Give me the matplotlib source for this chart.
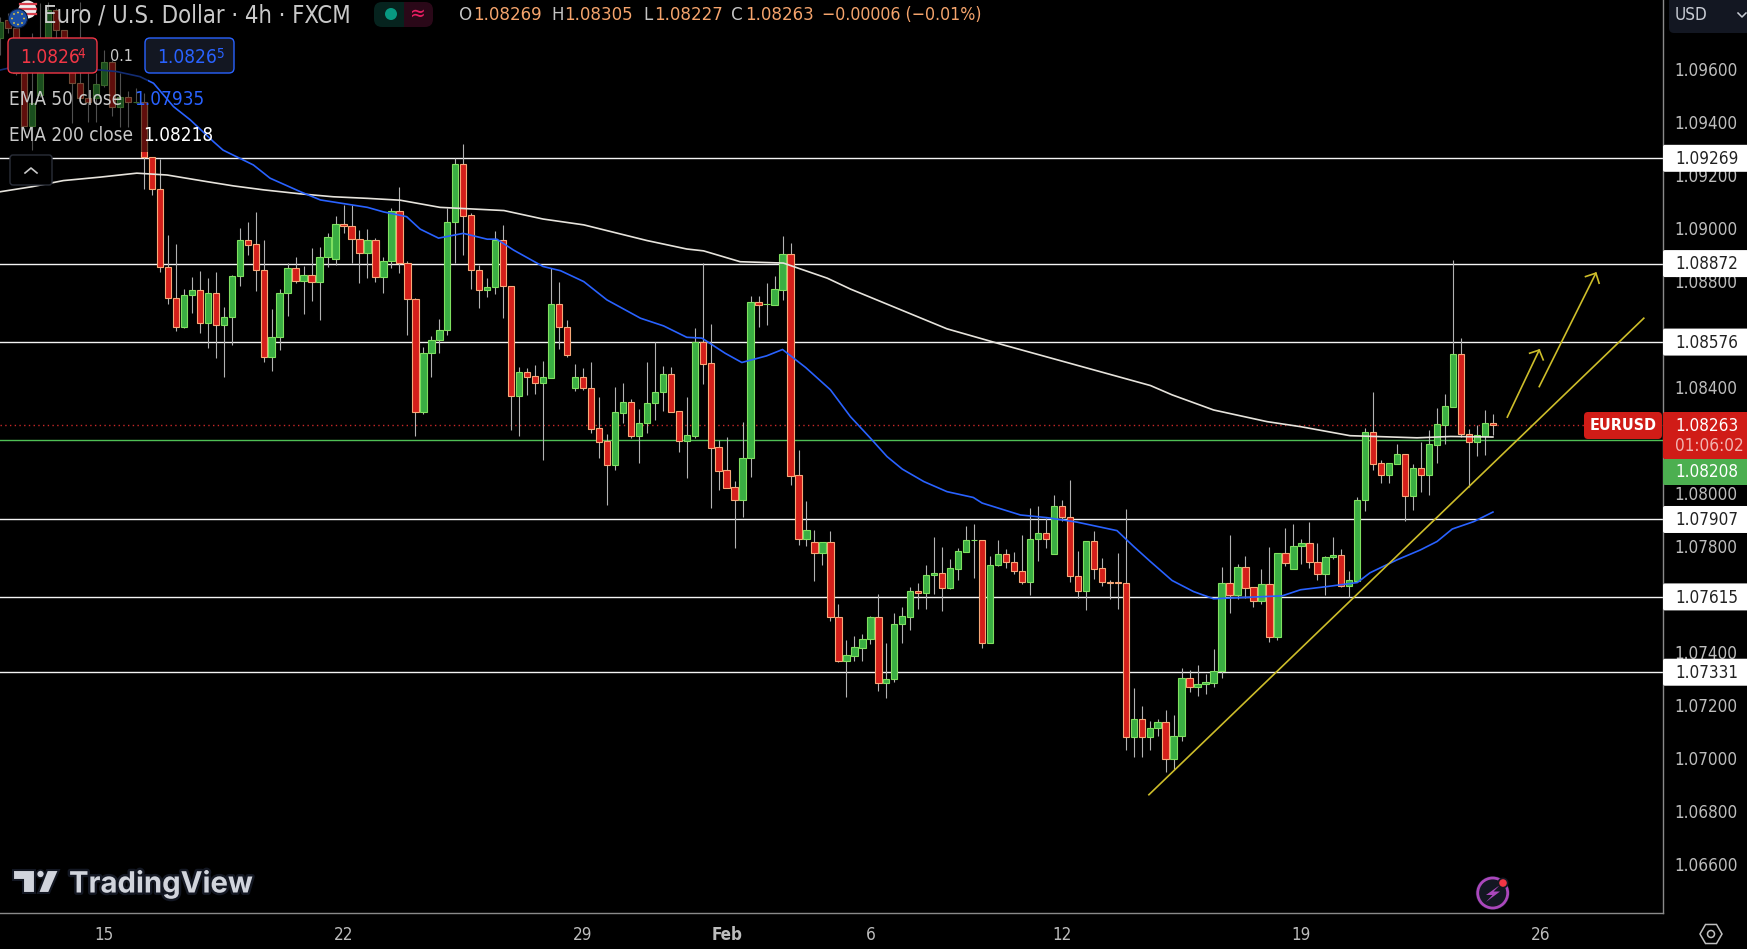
import matplotlib
matplotlib.use("Agg")
import matplotlib.pyplot as plt
import matplotlib.patheffects as pe
from matplotlib.patches import Rectangle, FancyBboxPatch, Circle, Polygon, RegularPolygon
from matplotlib.transforms import ScaledTranslation

W, H = 1747, 949
AXIS_X, AXIS_Y = 1663, 913
BAR_PX = 7.982

opens = [
    1.09721, 1.09791, 1.09759, 1.09589, 1.09391, 1.09508, 1.09721, 1.09828, 1.09753, 1.09677,
    1.09552, 1.09495, 1.09495, 1.09545, 1.09633, 1.09464, 1.09501, 1.09481, 1.09481, 1.09275,
    1.09152, 1.08860, 1.08741, 1.08632, 1.08752, 1.08771, 1.08647, 1.08760, 1.08639, 1.08669,
    1.08824, 1.08960, 1.08945, 1.08847, 1.08521, 1.08596, 1.08760, 1.08854, 1.08808, 1.08828,
    1.08804, 1.08896, 1.08891, 1.09020, 1.09015, 1.08966, 1.08913, 1.08960, 1.08823, 1.08883,
    1.09069, 1.08873, 1.08737, 1.08314, 1.08534, 1.08582, 1.08621, 1.09028, 1.09247, 1.09054,
    1.08846, 1.08774, 1.08783, 1.08960, 1.08789, 1.08374, 1.08462, 1.08447, 1.08423, 1.08442,
    1.08719, 1.08634, 1.08404, 1.08443, 1.08402, 1.08251, 1.08202, 1.08114, 1.08310, 1.08349,
    1.08223, 1.08270, 1.08345, 1.08386, 1.08455, 1.08315, 1.08204, 1.08223, 1.08575, 1.08496,
    1.08179, 1.08093, 1.08028, 1.07982, 1.08138, 1.08726, 1.08718, 1.08716, 1.08774, 1.08907,
    1.08074, 1.07835, 1.07821, 1.07782, 1.07822, 1.07539, 1.07375, 1.07394, 1.07424, 1.07455,
    1.07539, 1.07292, 1.07304, 1.07511, 1.07541, 1.07637, 1.07628, 1.07697, 1.07705, 1.07647,
    1.07722, 1.07786, 1.07829, 1.07829, 1.07440, 1.07734, 1.07776, 1.07746, 1.07712, 1.07670,
    1.07832, 1.07856, 1.07775, 1.07957, 1.07916, 1.07693, 1.07639, 1.07825, 1.07724, 1.07670,
    1.07670, 1.07667, 1.07085, 1.07154, 1.07085, 1.07119, 1.07143, 1.07002, 1.07089, 1.07309,
    1.07274, 1.07285, 1.07292, 1.07334, 1.07666, 1.07623, 1.07727, 1.07651, 1.07601, 1.07663,
    1.07465, 1.07779, 1.07722, 1.07806, 1.07817, 1.07748, 1.07703, 1.07764, 1.07772, 1.07657,
    1.07676, 1.07979, 1.08236, 1.08119, 1.08076, 1.08118, 1.08153, 1.07997, 1.08100, 1.08076,
    1.08189, 1.08263, 1.08333, 1.08530, 1.08231, 1.08201, 1.08223, 1.08269,
]
highs = [
    1.09803, 1.09816, 1.09770, 1.09600, 1.09740, 1.09853, 1.09860, 1.09835, 1.09753, 1.09715,
    1.09860, 1.09589, 1.09589, 1.09677, 1.09640, 1.09589, 1.09524, 1.09533, 1.09514, 1.09275,
    1.09266, 1.08980, 1.08946, 1.08775, 1.08820, 1.08844, 1.08816, 1.08840, 1.08707, 1.08829,
    1.09005, 1.09030, 1.09067, 1.08961, 1.08700, 1.08775, 1.08873, 1.08896, 1.08863, 1.08931,
    1.08933, 1.08986, 1.09051, 1.09093, 1.09093, 1.08999, 1.09001, 1.08967, 1.08898, 1.09080,
    1.09160, 1.08883, 1.08741, 1.08558, 1.08599, 1.08662, 1.09081, 1.09269, 1.09323, 1.09062,
    1.08867, 1.08817, 1.08995, 1.09018, 1.08789, 1.08481, 1.08477, 1.08490, 1.08504, 1.08857,
    1.08803, 1.08659, 1.08494, 1.08478, 1.08500, 1.08369, 1.08230, 1.08406, 1.08422, 1.08360,
    1.08324, 1.08500, 1.08575, 1.08486, 1.08482, 1.08315, 1.08368, 1.08629, 1.08873, 1.08644,
    1.08207, 1.08217, 1.08052, 1.08274, 1.08750, 1.08750, 1.08798, 1.08825, 1.08976, 1.08950,
    1.08169, 1.07977, 1.07866, 1.07821, 1.07864, 1.07589, 1.07453, 1.07468, 1.07476, 1.07544,
    1.07627, 1.07443, 1.07555, 1.07578, 1.07652, 1.07668, 1.07736, 1.07842, 1.07804, 1.07758,
    1.07800, 1.07882, 1.07891, 1.07829, 1.07770, 1.07830, 1.07797, 1.07785, 1.07848, 1.07950,
    1.07959, 1.07912, 1.07999, 1.07981, 1.08057, 1.07789, 1.07825, 1.07864, 1.07763, 1.07680,
    1.07781, 1.07947, 1.07272, 1.07205, 1.07148, 1.07155, 1.07189, 1.07171, 1.07348, 1.07340,
    1.07359, 1.07325, 1.07419, 1.07729, 1.07849, 1.07739, 1.07769, 1.07651, 1.07720, 1.07803,
    1.07779, 1.07875, 1.07890, 1.07833, 1.07898, 1.07818, 1.07769, 1.07841, 1.07796, 1.07713,
    1.07992, 1.08252, 1.08388, 1.08131, 1.08119, 1.08192, 1.08153, 1.08116, 1.08199, 1.08243,
    1.08327, 1.08380, 1.08886, 1.08591, 1.08248, 1.08262, 1.08319, 1.08305,
]
lows = [
    1.09659, 1.09740, 1.09583, 1.09391, 1.09300, 1.09500, 1.09703, 1.09715, 1.09665, 1.09401,
    1.09483, 1.09407, 1.09407, 1.09539, 1.09429, 1.09388, 1.09388, 1.09476, 1.09155, 1.09129,
    1.08841, 1.08718, 1.08619, 1.08628, 1.08684, 1.08609, 1.08555, 1.08515, 1.08446, 1.08565,
    1.08789, 1.08904, 1.08770, 1.08502, 1.08468, 1.08546, 1.08674, 1.08798, 1.08682, 1.08732,
    1.08659, 1.08860, 1.08867, 1.08989, 1.08873, 1.08800, 1.08819, 1.08804, 1.08760, 1.08854,
    1.08838, 1.08603, 1.08220, 1.08305, 1.08446, 1.08536, 1.08604, 1.08875, 1.08905, 1.08776,
    1.08706, 1.08746, 1.08758, 1.08667, 1.08245, 1.08220, 1.08377, 1.08380, 1.08132, 1.08442,
    1.08550, 1.08521, 1.08393, 1.08396, 1.08235, 1.08139, 1.07962, 1.08094, 1.08270, 1.08216,
    1.08120, 1.08235, 1.08282, 1.08316, 1.08313, 1.08163, 1.08065, 1.08216, 1.08418, 1.07952,
    1.08018, 1.08025, 1.07801, 1.07918, 1.08069, 1.08631, 1.08641, 1.08714, 1.08735, 1.08037,
    1.07811, 1.07807, 1.07676, 1.07736, 1.07523, 1.07368, 1.07236, 1.07372, 1.07375, 1.07438,
    1.07259, 1.07232, 1.07296, 1.07440, 1.07491, 1.07570, 1.07570, 1.07627, 1.07560, 1.07646,
    1.07680, 1.07786, 1.07688, 1.07421, 1.07440, 1.07730, 1.07725, 1.07700, 1.07665, 1.07623,
    1.07751, 1.07800, 1.07775, 1.07900, 1.07672, 1.07612, 1.07564, 1.07683, 1.07657, 1.07608,
    1.07570, 1.07036, 1.07010, 1.07010, 1.07039, 1.07089, 1.06953, 1.06967, 1.07070, 1.07255,
    1.07240, 1.07250, 1.07274, 1.07311, 1.07556, 1.07608, 1.07612, 1.07578, 1.07588, 1.07446,
    1.07453, 1.07732, 1.07722, 1.07739, 1.07724, 1.07679, 1.07622, 1.07759, 1.07654, 1.07616,
    1.07676, 1.07939, 1.08094, 1.08045, 1.08045, 1.08118, 1.07903, 1.07943, 1.08012, 1.08000,
    1.08120, 1.08192, 1.08333, 1.08217, 1.08031, 1.08146, 1.08150, 1.08227,
]
closes = [
    1.09784, 1.09759, 1.09589, 1.09391, 1.09476, 1.09721, 1.09828, 1.09753, 1.09677, 1.09552,
    1.09495, 1.09483, 1.09549, 1.09633, 1.09464, 1.09501, 1.09481, 1.09481, 1.09275, 1.09152,
    1.08860, 1.08741, 1.08632, 1.08752, 1.08772, 1.08647, 1.08760, 1.08639, 1.08669, 1.08825,
    1.08960, 1.08943, 1.08847, 1.08521, 1.08596, 1.08760, 1.08854, 1.08808, 1.08828, 1.08804,
    1.08896, 1.08971, 1.09020, 1.09015, 1.08966, 1.08913, 1.08960, 1.08823, 1.08883, 1.09069,
    1.08873, 1.08737, 1.08314, 1.08534, 1.08583, 1.08621, 1.09028, 1.09247, 1.09053, 1.08846,
    1.08774, 1.08783, 1.08960, 1.08789, 1.08374, 1.08462, 1.08446, 1.08423, 1.08443, 1.08719,
    1.08634, 1.08529, 1.08443, 1.08401, 1.08250, 1.08201, 1.08114, 1.08311, 1.08349, 1.08223,
    1.08270, 1.08345, 1.08387, 1.08455, 1.08314, 1.08204, 1.08225, 1.08575, 1.08495, 1.08178,
    1.08091, 1.08027, 1.07982, 1.08138, 1.08726, 1.08714, 1.08719, 1.08775, 1.08907, 1.08072,
    1.07835, 1.07866, 1.07782, 1.07821, 1.07538, 1.07375, 1.07396, 1.07426, 1.07456, 1.07539,
    1.07292, 1.07305, 1.07512, 1.07543, 1.07637, 1.07628, 1.07697, 1.07705, 1.07647, 1.07724,
    1.07788, 1.07829, 1.07830, 1.07440, 1.07735, 1.07776, 1.07745, 1.07711, 1.07670, 1.07833,
    1.07856, 1.07832, 1.07957, 1.07915, 1.07692, 1.07639, 1.07825, 1.07722, 1.07670, 1.07669,
    1.07669, 1.07085, 1.07154, 1.07085, 1.07120, 1.07143, 1.07002, 1.07090, 1.07309, 1.07274,
    1.07286, 1.07294, 1.07335, 1.07667, 1.07622, 1.07727, 1.07650, 1.07601, 1.07663, 1.07465,
    1.07779, 1.07744, 1.07806, 1.07817, 1.07748, 1.07703, 1.07764, 1.07772, 1.07657, 1.07678,
    1.07979, 1.08236, 1.08118, 1.08076, 1.08119, 1.08153, 1.07997, 1.08100, 1.08076, 1.08190,
    1.08266, 1.08334, 1.08530, 1.08231, 1.08201, 1.08224, 1.08270, 1.08263,
]

ema50_bar = [
    0, 1, 12.5, 14.6, 17.5, 19.2, 21.7, 23.8, 26.7, 27.9, 31.7, 33.8, 37.6, 40.1, 46, 48, 50.9,
    52.6, 54.9, 58, 61, 62.2, 64.3, 68, 70.2, 73.1, 76, 80.2, 83.1, 86, 87.9, 90.8, 92.9, 96, 98,
    100.9, 104, 106.5, 109, 111.1, 113, 115.7, 118.6, 121.9, 123, 127.8, 131.1, 134.9, 139.9, 142,
    144.1, 146.8, 149.5, 152, 156.6, 160.6, 162.9, 166.2, 170, 171.6, 175, 177.9, 180, 181.9,
    184.6, 187,
]
ema50_val = [
    1.09602, 1.09609, 1.09602, 1.09596, 1.09577, 1.09552, 1.09464, 1.09414, 1.09332, 1.09300,
    1.09244, 1.09194, 1.09143, 1.09112, 1.09084, 1.09067, 1.09049, 1.09002, 1.08968, 1.08986,
    1.08964, 1.08964, 1.08923, 1.08861, 1.08845, 1.08804, 1.08735, 1.08666, 1.08637, 1.08594,
    1.08591, 1.08534, 1.08499, 1.08524, 1.08548, 1.08480, 1.08396, 1.08295, 1.08214, 1.08144,
    1.08097, 1.08050, 1.08012, 1.07990, 1.07969, 1.07924, 1.07914, 1.07897, 1.07865, 1.07805,
    1.07748, 1.07677, 1.07635, 1.07608, 1.07614, 1.07619, 1.07642, 1.07654, 1.07669, 1.07706,
    1.07755, 1.07792, 1.07824, 1.07871, 1.07899, 1.07935,
]
ema200_bar = [
    0, 4, 7.9, 12.5, 17.1, 20.9, 25.9, 29.2, 33, 37.6, 41.7, 46, 50.1, 55.1, 63.1, 68, 73.1, 81,
    86, 88.1, 92.7, 98.1, 103.6, 106.5, 118.6, 125.7, 144.1, 146.8, 152, 158.7, 162.9, 169.1,
    177.5, 181.7, 187,
]
ema200_val = [
    1.09143, 1.09162, 1.09185, 1.09198, 1.09213, 1.09206, 1.09181, 1.09165, 1.09150, 1.09135,
    1.09124, 1.09118, 1.09111, 1.09084, 1.09072, 1.09040, 1.09018, 1.08959, 1.08927, 1.08920,
    1.08879, 1.08874, 1.08817, 1.08776, 1.08626, 1.08565, 1.08412, 1.08377, 1.08320, 1.08276,
    1.08257, 1.08223, 1.08215, 1.08220, 1.08218,
]

levels = [1.09269, 1.08872, 1.08576, 1.07907, 1.07615, 1.07331]
level_labels = ["1.09269", "1.08872", "1.08576", "1.07907", "1.07615", "1.07331"]
last_price = 1.08263
ema_price = 1.08208

trend_bar = [143.9, 205.9]
trend_val = [1.06869, 1.08666]
arrow1_bar = [188.8, 192.8]
arrow1_val = [1.08293, 1.08546]
arrow1_head_bar = [191.6, 192.8, 193.3]
arrow1_head_val = [1.08534, 1.08546, 1.08509]
arrow2_bar = [192.8, 199.9]
arrow2_val = [1.08408, 1.08836]
arrow2_head_bar = [198.6, 199.9, 200.3]
arrow2_head_val = [1.08823, 1.08836, 1.08798]

date_ticks = [13, 43, 73, 91, 109, 133, 163, 193]
date_labels = ["15", "22", "29", "Feb", "6", "12", "19", "26"]
price_ticks = [1.066, 1.068, 1.070, 1.072, 1.074, 1.076, 1.078, 1.080,
               1.084, 1.088, 1.090, 1.092, 1.094, 1.096]
y_top = 1.09866
y_bottom = 1.06423

BG = "#000000"
UP_FILL, UP_EDGE = "#3aae43", "#7fe060"
DOWN_FILL, DOWN_EDGE = "#d41f1a", "#f8a878"
WICK = "#b2b2b2"
YELLOW = "#cdbd2a"
AXIS_GRAY = "#8a8a8a"
TICK_COLOR = "#bdbdbd"
FONT = dict(family="DejaVu Sans", stretch="condensed")
fs = lambda px: px * 0.72

fig = plt.figure(figsize=(W / 100, H / 100), dpi=100, facecolor=BG)
ax = fig.add_axes([0, 1 - AXIS_Y / H, AXIS_X / W, AXIS_Y / H], facecolor=BG)
ax.set_xlim(-0.3 / BAR_PX, (AXIS_X - 0.3) / BAR_PX)
ax.set_ylim(y_bottom, y_top)

bars = range(len(opens))
ax.vlines(bars, lows, highs, color=WICK, linewidth=0.8, zorder=3)
for i in bars:
    up = closes[i] >= opens[i]
    ax.bar(i, max(abs(closes[i] - opens[i]), 0.00002), bottom=min(opens[i], closes[i]), width=0.8,
           color=UP_FILL if up else DOWN_FILL, edgecolor=UP_EDGE if up else DOWN_EDGE,
           linewidth=0.8, zorder=4)

for lv in levels:
    ax.axhline(lv, color="#f4f4f4", linewidth=1.0, zorder=2)
ax.axhline(last_price, color="#c62828", linewidth=1.0, linestyle=(0, (1, 2.4)), zorder=2)
ax.axhline(ema_price, color="#4fbf55", linewidth=1.0, zorder=2)

ax.plot(ema200_bar, ema200_val, color="#e6e3dc", linewidth=1.2, zorder=5)
ax.plot(ema50_bar, ema50_val, color="#2962ff", linewidth=1.2, zorder=5)

for xs, ys in [(trend_bar, trend_val), (arrow1_bar, arrow1_val), (arrow1_head_bar, arrow1_head_val),
               (arrow2_bar, arrow2_val), (arrow2_head_bar, arrow2_head_val)]:
    ax.plot(xs, ys, color=YELLOW, linewidth=1.2, zorder=6)

ax.yaxis.tick_right()
ax.set_yticks(price_ticks, ["%.5f" % p for p in price_ticks], color=TICK_COLOR, fontsize=fs(17), **FONT)
ax.set_xticks(date_ticks, date_labels, color=TICK_COLOR, fontsize=fs(17), **FONT)
ax.tick_params(axis="y", length=0, pad=8.4)
ax.tick_params(axis="x", length=0, pad=9.5)
nudge = ScaledTranslation(0, 1.2 / 72, fig.dpi_scale_trans)
for lab in ax.get_yticklabels():
    lab.set_transform(lab.get_transform() + nudge)
for lab in ax.get_xticklabels():
    if lab.get_text() == "Feb":
        lab.set_fontweight("bold")
for side in ["top", "left"]:
    ax.spines[side].set_visible(False)
for side in ["right", "bottom"]:
    ax.spines[side].set_color(AXIS_GRAY)
    ax.spines[side].set_linewidth(1.0)

# pixel overlay for the tradingview chrome
ov = fig.add_axes([0, 0, 1, 1], facecolor="none", zorder=10)
ov.set_xlim(0, W)
ov.set_ylim(H, 0)
ov.axis("off")


def ypx(price):
    return (y_top - price) / (y_top - y_bottom) * AXIS_Y


def label(x, y, s, color, size=17, ha="left", **kw):
    font = dict(FONT)
    font.update(kw)
    return ov.text(x, y, s, color=color, fontsize=fs(size), ha=ha, va="center", **font)


def box(x0, y0, x1, y1, face, edge="none", lw=1.0, r=2, z=2):
    ov.add_patch(FancyBboxPatch((x0 + r, y0 + r), x1 - x0 - 2 * r, y1 - y0 - 2 * r,
                                boxstyle="round,pad=%d,rounding_size=%d" % (r, r),
                                facecolor=face, edgecolor=edge, linewidth=lw, zorder=z))


# dim backdrop behind the legend
ov.add_patch(Rectangle((0, 0), 148, 152, facecolor="#000000", alpha=0.55, edgecolor="none", zorder=1))

# price tags
for lv, txt in zip(levels, level_labels):
    y = ypx(lv)
    box(1663, y - 13.5, W + 4, y + 13.5, "#ffffff", r=2)
    label(1675, y + 0.8, txt, "#222222", 17, zorder=3)
box(1663, 412, W + 4, 459, "#d01c17", r=2)
label(1675, 426, "1.08263", "#ffffff", 17, zorder=3)
label(1675, 446, "01:06:02", "#f2b5b2", 17, zorder=3)
box(1663, 459, W + 4, 485, "#4caf50", r=2)
label(1675, 472, "1.08208", "#ffffff", 17, zorder=3)
box(1584, 412, 1662, 439, "#d01c17", r=4)
label(1623, 425.5, "EURUSD", "#ffffff", 16, ha="center", fontweight="bold", zorder=3)

# currency button
box(1669, -8, W + 8, 33, "#131722", r=5)
label(1675, 15, "USD", "#c8ccd4", 17, zorder=3)
ov.plot([1738, 1742, 1746], [13, 17, 13], color="#c8ccd4", linewidth=1.1, zorder=3)

# symbol header
ov.add_patch(Circle((27.5, 9.5), 9, facecolor="#f0f0f0", edgecolor="none", zorder=3))
for yy in [3.5, 8.5, 13.5]:
    ov.plot([20, 36], [yy, yy], color="#d9414e", linewidth=1.6, zorder=3)
ov.add_patch(Circle((18, 18.5), 9.5, facecolor="#1d4fa3", edgecolor="#0b1a38", linewidth=0.8, zorder=4))
for dx, dy in [(0, -6), (4, -4.5), (6, 0), (4, 4.5), (0, 6), (-4, 4.5), (-6, 0), (-4, -4.5)]:
    ov.add_patch(Circle((18 + dx, 18.5 + dy), 0.9, facecolor="#f2cf3a", edgecolor="none", zorder=5))
label(43, 15, "Euro / U.S. Dollar · 4h · FXCM", "#c9c9c9", 23.8, zorder=3)

box(374, 2, 404, 27, "#06231e", r=8)
box(395, 2, 433, 27, "#2a0818", r=8)
ov.add_patch(Rectangle((391, 2), 13, 25, facecolor="#06231e", edgecolor="none", zorder=3))
ov.add_patch(Rectangle((404, 2), 12, 25, facecolor="#2a0818", edgecolor="none", zorder=3))
ov.add_patch(Circle((391, 14), 6, facecolor="#089981", edgecolor="none", zorder=4))
label(418, 14, "≈", "#e91e63", 21, ha="center", zorder=4)

ohlc_gray, ohlc_val = "#c4c4c4", "#f5a46c"
for x, s, col, sz in [(459, "O", ohlc_gray, 18.5), (473.5, "1.08269", ohlc_val, 18.5), (551, "H", ohlc_gray, 18.5),
                      (564.5, "1.08305", ohlc_val, 18.5), (643, "L", ohlc_gray, 18.5), (654, "1.08227", ohlc_val, 18.5),
                      (731, "C", ohlc_gray, 18.5), (745, "1.08263", ohlc_val, 18.5),
                      (822.5, "−0.00006 (−0.01%)", ohlc_val, 17.6)]:
    label(x, 15, s, col, sz, zorder=3)

# bid / ask boxes
box(8, 38, 97, 73, "#131722", edge="#f23645", lw=1.0, r=5)
label(20, 57, "1.0826", "#f23645", 19, zorder=3)
label(77, 54, "4", "#f23645", 13.5, zorder=3)
label(110, 56, "0.1", "#c9c9c9", 16, zorder=3)
box(145, 38, 234, 73, "#131722", edge="#2962ff", lw=1.0, r=5)
label(157, 57, "1.0826", "#2962ff", 19, zorder=3)
label(216, 54, "5", "#2962ff", 13.5, zorder=3)

# legend rows
label(9, 99, "EMA 50 close", "#c9c9c9", 18.9, zorder=3)
label(134, 99, "1.07935", "#2962ff", 18.9, zorder=3)
label(9, 135, "EMA 200 close", "#c9c9c9", 18.9, zorder=3)
label(143.6, 135, "1.08218", "#ffffff", 18.9, zorder=3)
box(10, 155, 52, 185, "#000000", edge="#2a2e39", lw=1.0, r=3)
ov.plot([25, 31, 37], [173, 168, 173], color="#c9c9c9", linewidth=1.2, zorder=3)

# tradingview logo
logo_color = "#d1d4dc"
outline = [pe.withStroke(linewidth=3.5, foreground="#131722")]
ov.add_patch(Polygon([(13, 870), (35, 870), (35, 893), (23, 893), (23, 880), (13, 880)],
                     facecolor=logo_color, edgecolor="#131722", linewidth=1.5, zorder=3))
ov.add_patch(Circle((40.5, 874), 4, facecolor=logo_color, edgecolor="#131722", linewidth=1.2, zorder=3))
ov.add_patch(Polygon([(47, 870), (59, 870), (49, 893), (38, 893)],
                     facecolor=logo_color, edgecolor="#131722", linewidth=1.5, zorder=3))
ov.text(69, 884.5, "TradingView", color=logo_color, fontsize=fs(29.3), family="Inter", fontweight="bold",
        ha="left", va="center", zorder=3, path_effects=outline)

# flash icon
ov.add_patch(Circle((1492.7, 893), 17, facecolor="#131722", edgecolor="none", zorder=3))
ov.add_patch(Circle((1492.7, 893), 15, facecolor="#131722", edgecolor="#ab47bc", linewidth=2.0, zorder=3))
ov.add_patch(Polygon([(1500, 885), (1486, 895), (1492.5, 895), (1486, 902), (1500, 891.5), (1493.5, 891.5)],
                     facecolor="#ab47bc", edgecolor="none", zorder=4))
ov.add_patch(Circle((1503, 883), 5.5, facecolor="#131722", edgecolor="none", zorder=4))
ov.add_patch(Circle((1503, 883), 3.8, facecolor="#f23645", edgecolor="none", zorder=5))

# settings icon
ov.add_patch(RegularPolygon((1711, 934), 6, radius=11, orientation=0.5236, facecolor="none",
                            edgecolor="#c0c0c0", linewidth=1.1, zorder=3))
ov.add_patch(Circle((1711, 934), 3.5, facecolor="none", edgecolor="#c0c0c0", linewidth=1.1, zorder=3))

fig.savefig("out.png", dpi=100, facecolor=BG)
